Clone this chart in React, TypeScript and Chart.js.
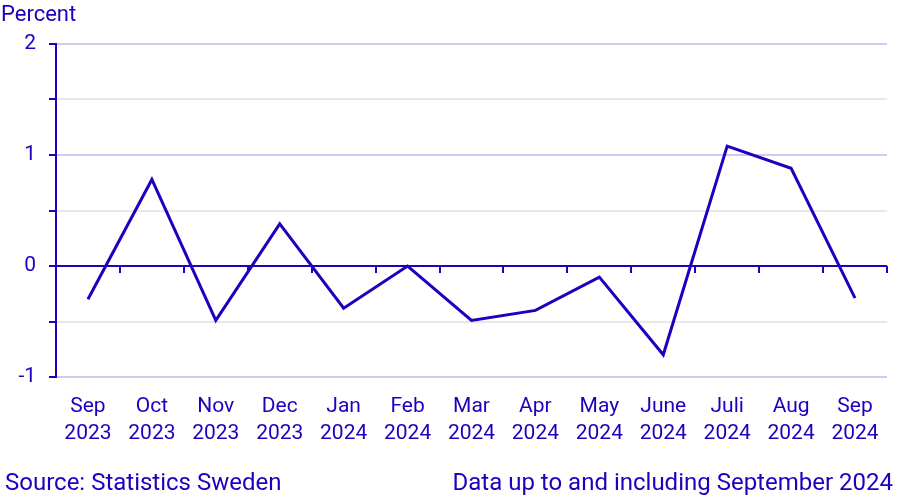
import React, { useEffect, useRef } from "react";
import { Chart, registerables } from "chart.js";

Chart.register(...registerables);

const months: string[] = ["Sep", "Oct", "Nov", "Dec", "Jan", "Feb", "Mar", "Apr", "May", "June", "Juli", "Aug", "Sep"];
const years: string[] = ["2023", "2023", "2023", "2023", "2024", "2024", "2024", "2024", "2024", "2024", "2024", "2024", "2024"];
const changePercent: number[] = [-0.3, 0.78, -0.49, 0.38, -0.38, 0.0, -0.49, -0.4, -0.1, -0.8, 1.08, 0.88, -0.29];
const yMin = -1;
const yMax = 2;
const yStep = 0.5;

const BLUE = "#1E00BE";
const LAVENDER = "#CDCBF0";
const GREY = "#E8E8E8";
const FONT = "Roboto";

const zeroTicksPlugin = {
  id: "zeroTicks",
  afterDatasetsDraw(chart: any) {
    const x = chart.scales.x;
    const y = chart.scales.y;
    const ctx = chart.ctx;
    const y0 = Math.round(y.getPixelForValue(0));
    const n = x.getLabels().length;
    ctx.save();
    ctx.strokeStyle = BLUE;
    ctx.lineWidth = 2;
    ctx.beginPath();
    for (let i = 1; i <= n; i++) {
      const px = Math.round(x.getPixelForValue(i - 0.5));
      ctx.moveTo(px, y0);
      ctx.lineTo(px, y0 + 7);
    }
    ctx.stroke();
    ctx.restore();
  },
};

export default function App() {
  const canvasRef = useRef<HTMLCanvasElement | null>(null);

  useEffect(() => {
    document.body.style.margin = "0";
    const canvas = canvasRef.current;
    if (!canvas) return;
    const labels = months.map((m, i) => [m, years[i]]);
    const chart = new Chart(canvas, {
      type: "line",
      data: {
        labels,
        datasets: [
          {
            data: changePercent,
            borderColor: BLUE,
            backgroundColor: BLUE,
            borderWidth: 3,
            pointRadius: 0,
            tension: 0,
            fill: false,
          },
        ],
      },
      options: {
        animation: false,
        responsive: false,
        devicePixelRatio: 1,
        layout: { padding: { top: 44, right: 22, bottom: 0, left: 0 } },
        plugins: { legend: { display: false }, tooltip: { enabled: false }, title: { display: false } },
        scales: {
          x: {
            type: "category",
            offset: true,
            grid: { display: false, offset: true },
            border: { display: false },
            ticks: {
              color: BLUE,
              font: { family: FONT, size: 21, lineHeight: "27px" },
              padding: 8,
              maxRotation: 0,
              autoSkip: false,
            },
            afterFit: (s: any) => {
              s.height = 124;
            },
          },
          y: {
            min: yMin,
            max: yMax,
            ticks: {
              stepSize: yStep,
              color: BLUE,
              font: { family: FONT, size: 21 },
              padding: 13,
              callback: (v: any) => (Number.isInteger(Number(v)) ? String(v) : ""),
            },
            grid: {
              color: (c: any) => {
                const v = c.tick ? c.tick.value : 1;
                if (v === 0) return BLUE;
                return Number.isInteger(v) ? LAVENDER : GREY;
              },
              lineWidth: 2,
              tickColor: BLUE,
              tickLength: 7,
              drawTicks: true,
            },
            border: { display: true, color: BLUE, width: 2 },
            afterFit: (s: any) => {
              s.width = 56;
            },
          },
        },
      },
      plugins: [zeroTicksPlugin],
    });
    return () => chart.destroy();
  }, []);

  const textStyle: React.CSSProperties = {
    position: "absolute",
    fontFamily: FONT,
    color: BLUE,
    whiteSpace: "nowrap",
  };

  return (
    <div style={{ position: "absolute", left: 0, top: 0, width: 909, height: 501, background: "#fff" }}>
      <canvas ref={canvasRef} width={909} height={501} style={{ position: "absolute", left: 0, top: 0 }} />
      <div style={{ ...textStyle, fontSize: 22, lineHeight: "22px", left: 1, top: 3 }}>Percent</div>
      <div style={{ ...textStyle, fontSize: 24, lineHeight: "24px", left: 5, top: 470 }}>Source: Statistics Sweden</div>
      <div style={{ ...textStyle, fontSize: 24, lineHeight: "24px", right: 16, top: 470 }}>
        Data up to and including September 2024
      </div>
    </div>
  );
}
